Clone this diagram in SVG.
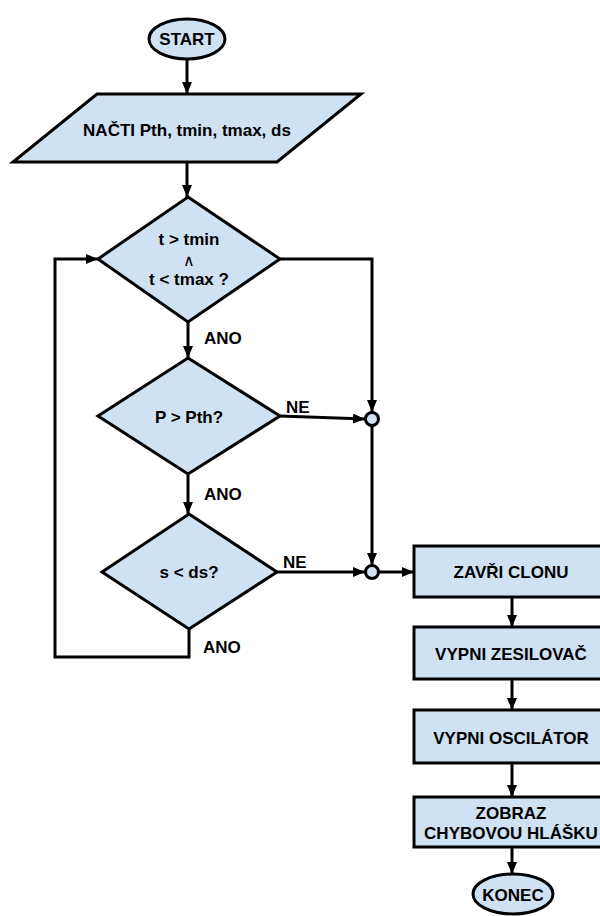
<svg xmlns="http://www.w3.org/2000/svg" width="600" height="916" viewBox="0 0 600 916">
  <defs>
    <marker id="arrow" viewBox="0 0 12 10" refX="12" refY="5" markerWidth="12" markerHeight="10" markerUnits="userSpaceOnUse" orient="auto">
      <path d="M0,0 L12,5 L0,10 Z" fill="#000"/>
    </marker>
    <style>
      .shape { fill: #cfe2f3; stroke: #000; stroke-width: 3; stroke-linejoin: miter; }
      .link { fill: none; stroke: #000; stroke-width: 3; }
      .arr { marker-end: url(#arrow); }
      text { font-family: "Liberation Sans", Arial, sans-serif; font-weight: bold; font-size: 17px; fill: #000; }
      .c { text-anchor: middle; }
      .op { font-weight: normal; font-size: 16px; }
    </style>
  </defs>

  <rect width="600" height="916" fill="#fff"/>

  <!-- connectors -->
  <g id="connectors">
    <line class="link arr" x1="187" y1="59" x2="187" y2="94"/>
    <line class="link arr" x1="187" y1="162" x2="187" y2="197"/>
    <line class="link arr" x1="188" y1="322" x2="188" y2="358"/>
    <line class="link arr" x1="188" y1="474" x2="188" y2="514"/>
    <!-- loop back from the last test -->
    <polyline class="link arr" points="189,629 189,657 55,657 55,259 98,259"/>
    <!-- exit of the first test -->
    <polyline class="link arr" points="280,259 372,259 372,412"/>
    <line class="link arr" x1="280" y1="416" x2="365" y2="419"/>
    <line class="link arr" x1="372" y1="426" x2="372" y2="565"/>
    <line class="link arr" x1="277" y1="572" x2="365" y2="572"/>
    <line class="link arr" x1="379" y1="572" x2="414" y2="572"/>
    <line class="link arr" x1="512" y1="597" x2="512" y2="627"/>
    <line class="link arr" x1="512" y1="679" x2="512" y2="710"/>
    <line class="link arr" x1="512" y1="763" x2="512" y2="797"/>
    <line class="link arr" x1="512" y1="847" x2="512" y2="874"/>
    <text x="204" y="344">ANO</text>
    <text x="286" y="413">NE</text>
    <text x="204" y="500">ANO</text>
    <text x="283" y="568">NE</text>
    <text x="203" y="653">ANO</text>
  </g>

  <g id="start">
    <ellipse class="shape" cx="187" cy="39" rx="38" ry="20"/>
    <text class="c" x="187" y="45">START</text>
  </g>

  <g id="input">
    <polygon class="shape" points="97,94 361,94 277,162 13,162"/>
    <text class="c" x="187" y="136">NAČTI Pth, tmin, tmax, ds</text>
  </g>

  <g id="test-time">
    <polygon class="shape" points="188,197 280,259 188,322 98,259"/>
    <text class="c" x="189" y="245">t &gt; tmin</text>
    <text class="c op" x="189" y="266">∧</text>
    <text class="c" x="189" y="285">t &lt; tmax ?</text>
  </g>

  <g id="test-power">
    <polygon class="shape" points="188,358 280,416 188,474 98,416"/>
    <text class="c" x="189" y="423">P &gt; Pth?</text>
  </g>

  <g id="test-distance">
    <polygon class="shape" points="189,514 277,572 189,629 102,572"/>
    <text class="c" x="189" y="578">s &lt; ds?</text>
  </g>

  <g id="junction-1">
    <circle class="shape" cx="372" cy="419" r="6.5"/>
  </g>
  <g id="junction-2">
    <circle class="shape" cx="372" cy="572" r="6.5"/>
  </g>

  <g id="close-shutter">
    <rect class="shape" x="414" y="546" width="194" height="51"/>
    <text class="c" x="511" y="578">ZAVŘI CLONU</text>
  </g>

  <g id="amp-off">
    <rect class="shape" x="414" y="627" width="194" height="52"/>
    <text class="c" x="511" y="660">VYPNI ZESILOVAČ</text>
  </g>

  <g id="osc-off">
    <rect class="shape" x="414" y="710" width="194" height="53"/>
    <text class="c" x="511" y="744">VYPNI OSCILÁTOR</text>
  </g>

  <g id="show-error">
    <rect class="shape" x="414" y="797" width="194" height="50"/>
    <text class="c" x="511" y="819">ZOBRAZ</text>
    <text class="c" x="511" y="839">CHYBOVOU HLÁŠKU</text>
  </g>

  <g id="end">
    <ellipse class="shape" cx="513" cy="894" rx="40" ry="20"/>
    <text class="c" x="513" y="901">KONEC</text>
  </g>
</svg>
